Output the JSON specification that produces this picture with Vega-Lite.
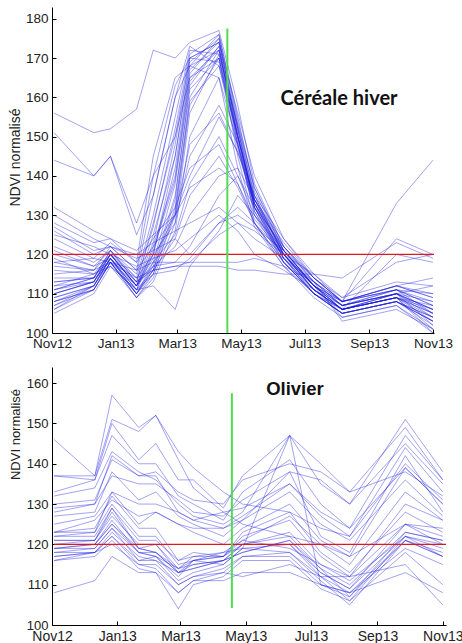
{
"$schema":"https://vega.github.io/schema/vega-lite/v6.json",
"background":"white",
"padding":{"left":8,"top":7,"right":0,"bottom":0},
"spacing":17,
"datasets":{
"dates":[{"i":0,"t":1351900800000},{"i":1,"t":1355184000000},{"i":2,"t":1356566400000},{"i":3,"t":1358726400000},{"i":4,"t":1360108800000},{"i":5,"t":1361923200000},{"i":6,"t":1363132800000},{"i":7,"t":1365552000000},{"i":8,"t":1367107200000},{"i":9,"t":1368489600000},{"i":10,"t":1370908800000},{"i":11,"t":1373414400000},{"i":12,"t":1375747200000},{"i":13,"t":1380240000000},{"i":14,"t":1383264000000}],
"top":[
{"s":1,"i":0,"v":156},{"s":1,"i":1,"v":151},{"s":1,"i":2,"v":152},{"s":1,"i":3,"v":157},{"s":1,"i":4,"v":172},{"s":1,"i":5,"v":170},{"s":1,"i":6,"v":174},{"s":1,"i":7,"v":177},{"s":1,"i":8,"v":158},{"s":1,"i":9,"v":138},{"s":1,"i":10,"v":122},{"s":1,"i":11,"v":114},{"s":1,"i":12,"v":108},{"s":1,"i":13,"v":111},{"s":1,"i":14,"v":107},
{"s":2,"i":0,"v":151},{"s":2,"i":1,"v":140},{"s":2,"i":2,"v":145},{"s":2,"i":3,"v":128},{"s":2,"i":4,"v":140},{"s":2,"i":5,"v":150},{"s":2,"i":6,"v":165},{"s":2,"i":7,"v":170},{"s":2,"i":8,"v":150},{"s":2,"i":9,"v":133},{"s":2,"i":10,"v":120},{"s":2,"i":11,"v":112},{"s":2,"i":12,"v":107},{"s":2,"i":13,"v":110},{"s":2,"i":14,"v":106},
{"s":3,"i":0,"v":144},{"s":3,"i":1,"v":140},{"s":3,"i":2,"v":145},{"s":3,"i":3,"v":125},{"s":3,"i":4,"v":135},{"s":3,"i":5,"v":160},{"s":3,"i":6,"v":168},{"s":3,"i":7,"v":172},{"s":3,"i":8,"v":152},{"s":3,"i":9,"v":132},{"s":3,"i":10,"v":119},{"s":3,"i":11,"v":112},{"s":3,"i":12,"v":108},{"s":3,"i":13,"v":111},{"s":3,"i":14,"v":105},
{"s":4,"i":0,"v":110},{"s":4,"i":1,"v":113},{"s":4,"i":2,"v":120},{"s":4,"i":3,"v":112},{"s":4,"i":4,"v":125},{"s":4,"i":5,"v":145},{"s":4,"i":6,"v":168},{"s":4,"i":7,"v":176},{"s":4,"i":8,"v":155},{"s":4,"i":9,"v":136},{"s":4,"i":10,"v":121},{"s":4,"i":11,"v":112},{"s":4,"i":12,"v":106},{"s":4,"i":13,"v":109},{"s":4,"i":14,"v":104},
{"s":5,"i":0,"v":108},{"s":5,"i":1,"v":112},{"s":5,"i":2,"v":119},{"s":5,"i":3,"v":111},{"s":5,"i":4,"v":122},{"s":5,"i":5,"v":140},{"s":5,"i":6,"v":166},{"s":5,"i":7,"v":175},{"s":5,"i":8,"v":150},{"s":5,"i":9,"v":134},{"s":5,"i":10,"v":120},{"s":5,"i":11,"v":111},{"s":5,"i":12,"v":106},{"s":5,"i":13,"v":110},{"s":5,"i":14,"v":102},
{"s":6,"i":0,"v":107},{"s":6,"i":1,"v":112},{"s":6,"i":2,"v":118},{"s":6,"i":3,"v":110},{"s":6,"i":4,"v":118},{"s":6,"i":5,"v":138},{"s":6,"i":6,"v":164},{"s":6,"i":7,"v":173},{"s":6,"i":8,"v":148},{"s":6,"i":9,"v":131},{"s":6,"i":10,"v":119},{"s":6,"i":11,"v":110},{"s":6,"i":12,"v":105},{"s":6,"i":13,"v":108},{"s":6,"i":14,"v":103},
{"s":7,"i":0,"v":111},{"s":7,"i":1,"v":114},{"s":7,"i":2,"v":121},{"s":7,"i":3,"v":113},{"s":7,"i":4,"v":128},{"s":7,"i":5,"v":150},{"s":7,"i":6,"v":170},{"s":7,"i":7,"v":174},{"s":7,"i":8,"v":156},{"s":7,"i":9,"v":140},{"s":7,"i":10,"v":124},{"s":7,"i":11,"v":114},{"s":7,"i":12,"v":108},{"s":7,"i":13,"v":112},{"s":7,"i":14,"v":109},
{"s":8,"i":0,"v":109},{"s":8,"i":1,"v":112},{"s":8,"i":2,"v":119},{"s":8,"i":3,"v":110},{"s":8,"i":4,"v":116},{"s":8,"i":5,"v":132},{"s":8,"i":6,"v":160},{"s":8,"i":7,"v":172},{"s":8,"i":8,"v":150},{"s":8,"i":9,"v":132},{"s":8,"i":10,"v":118},{"s":8,"i":11,"v":110},{"s":8,"i":12,"v":106},{"s":8,"i":13,"v":109},{"s":8,"i":14,"v":100},
{"s":9,"i":0,"v":106},{"s":9,"i":1,"v":111},{"s":9,"i":2,"v":118},{"s":9,"i":3,"v":109},{"s":9,"i":4,"v":115},{"s":9,"i":5,"v":130},{"s":9,"i":6,"v":158},{"s":9,"i":7,"v":170},{"s":9,"i":8,"v":145},{"s":9,"i":9,"v":128},{"s":9,"i":10,"v":117},{"s":9,"i":11,"v":109},{"s":9,"i":12,"v":104},{"s":9,"i":13,"v":107},{"s":9,"i":14,"v":101},
{"s":10,"i":0,"v":112},{"s":10,"i":1,"v":115},{"s":10,"i":2,"v":120},{"s":10,"i":3,"v":114},{"s":10,"i":4,"v":130},{"s":10,"i":5,"v":155},{"s":10,"i":6,"v":172},{"s":10,"i":7,"v":171},{"s":10,"i":8,"v":153},{"s":10,"i":9,"v":137},{"s":10,"i":10,"v":122},{"s":10,"i":11,"v":113},{"s":10,"i":12,"v":107},{"s":10,"i":13,"v":111},{"s":10,"i":14,"v":108},
{"s":11,"i":0,"v":113},{"s":11,"i":1,"v":114},{"s":11,"i":2,"v":121},{"s":11,"i":3,"v":115},{"s":11,"i":4,"v":135},{"s":11,"i":5,"v":160},{"s":11,"i":6,"v":173},{"s":11,"i":7,"v":168},{"s":11,"i":8,"v":150},{"s":11,"i":9,"v":133},{"s":11,"i":10,"v":121},{"s":11,"i":11,"v":112},{"s":11,"i":12,"v":107},{"s":11,"i":13,"v":110},{"s":11,"i":14,"v":106},
{"s":12,"i":0,"v":105},{"s":12,"i":1,"v":110},{"s":12,"i":2,"v":117},{"s":12,"i":3,"v":109},{"s":12,"i":4,"v":113},{"s":12,"i":5,"v":126},{"s":12,"i":6,"v":150},{"s":12,"i":7,"v":165},{"s":12,"i":8,"v":142},{"s":12,"i":9,"v":127},{"s":12,"i":10,"v":117},{"s":12,"i":11,"v":110},{"s":12,"i":12,"v":105},{"s":12,"i":13,"v":108},{"s":12,"i":14,"v":103},
{"s":13,"i":0,"v":110},{"s":13,"i":1,"v":113},{"s":13,"i":2,"v":119},{"s":13,"i":3,"v":112},{"s":13,"i":4,"v":120},{"s":13,"i":5,"v":142},{"s":13,"i":6,"v":167},{"s":13,"i":7,"v":174},{"s":13,"i":8,"v":152},{"s":13,"i":9,"v":135},{"s":13,"i":10,"v":120},{"s":13,"i":11,"v":111},{"s":13,"i":12,"v":106},{"s":13,"i":13,"v":109},{"s":13,"i":14,"v":105},
{"s":14,"i":0,"v":108},{"s":14,"i":1,"v":111},{"s":14,"i":2,"v":118},{"s":14,"i":3,"v":110},{"s":14,"i":4,"v":117},{"s":14,"i":5,"v":135},{"s":14,"i":6,"v":162},{"s":14,"i":7,"v":170},{"s":14,"i":8,"v":148},{"s":14,"i":9,"v":130},{"s":14,"i":10,"v":118},{"s":14,"i":11,"v":110},{"s":14,"i":12,"v":106},{"s":14,"i":13,"v":110},{"s":14,"i":14,"v":104},
{"s":15,"i":0,"v":115},{"s":15,"i":1,"v":116},{"s":15,"i":2,"v":122},{"s":15,"i":3,"v":116},{"s":15,"i":4,"v":140},{"s":15,"i":5,"v":163},{"s":15,"i":6,"v":170},{"s":15,"i":7,"v":169},{"s":15,"i":8,"v":150},{"s":15,"i":9,"v":134},{"s":15,"i":10,"v":121},{"s":15,"i":11,"v":112},{"s":15,"i":12,"v":108},{"s":15,"i":13,"v":111},{"s":15,"i":14,"v":107},
{"s":16,"i":0,"v":118},{"s":16,"i":1,"v":119},{"s":16,"i":2,"v":123},{"s":16,"i":3,"v":118},{"s":16,"i":4,"v":145},{"s":16,"i":5,"v":165},{"s":16,"i":6,"v":168},{"s":16,"i":7,"v":165},{"s":16,"i":8,"v":148},{"s":16,"i":9,"v":132},{"s":16,"i":10,"v":120},{"s":16,"i":11,"v":112},{"s":16,"i":12,"v":107},{"s":16,"i":13,"v":110},{"s":16,"i":14,"v":106},
{"s":17,"i":0,"v":122},{"s":17,"i":1,"v":118},{"s":17,"i":2,"v":121},{"s":17,"i":3,"v":114},{"s":17,"i":4,"v":120},{"s":17,"i":5,"v":128},{"s":17,"i":6,"v":145},{"s":17,"i":7,"v":158},{"s":17,"i":8,"v":148},{"s":17,"i":9,"v":134},{"s":17,"i":10,"v":122},{"s":17,"i":11,"v":113},{"s":17,"i":12,"v":107},{"s":17,"i":13,"v":111},{"s":17,"i":14,"v":110},
{"s":18,"i":0,"v":126},{"s":18,"i":1,"v":120},{"s":18,"i":2,"v":122},{"s":18,"i":3,"v":116},{"s":18,"i":4,"v":122},{"s":18,"i":5,"v":130},{"s":18,"i":6,"v":140},{"s":18,"i":7,"v":155},{"s":18,"i":8,"v":146},{"s":18,"i":9,"v":133},{"s":18,"i":10,"v":121},{"s":18,"i":11,"v":112},{"s":18,"i":12,"v":106},{"s":18,"i":13,"v":110},{"s":18,"i":14,"v":108},
{"s":19,"i":0,"v":117},{"s":19,"i":1,"v":116},{"s":19,"i":2,"v":120},{"s":19,"i":3,"v":112},{"s":19,"i":4,"v":118},{"s":19,"i":5,"v":125},{"s":19,"i":6,"v":138},{"s":19,"i":7,"v":150},{"s":19,"i":8,"v":140},{"s":19,"i":9,"v":130},{"s":19,"i":10,"v":120},{"s":19,"i":11,"v":112},{"s":19,"i":12,"v":106},{"s":19,"i":13,"v":109},{"s":19,"i":14,"v":105},
{"s":20,"i":0,"v":128},{"s":20,"i":1,"v":123},{"s":20,"i":2,"v":124},{"s":20,"i":3,"v":118},{"s":20,"i":4,"v":124},{"s":20,"i":5,"v":132},{"s":20,"i":6,"v":142},{"s":20,"i":7,"v":148},{"s":20,"i":8,"v":138},{"s":20,"i":9,"v":128},{"s":20,"i":10,"v":118},{"s":20,"i":11,"v":111},{"s":20,"i":12,"v":105},{"s":20,"i":13,"v":108},{"s":20,"i":14,"v":104},
{"s":21,"i":0,"v":111},{"s":21,"i":1,"v":113},{"s":21,"i":2,"v":119},{"s":21,"i":3,"v":111},{"s":21,"i":4,"v":116},{"s":21,"i":5,"v":124},{"s":21,"i":6,"v":135},{"s":21,"i":7,"v":145},{"s":21,"i":8,"v":137},{"s":21,"i":9,"v":128},{"s":21,"i":10,"v":118},{"s":21,"i":11,"v":110},{"s":21,"i":12,"v":105},{"s":21,"i":13,"v":108},{"s":21,"i":14,"v":103},
{"s":22,"i":0,"v":113},{"s":22,"i":1,"v":114},{"s":22,"i":2,"v":120},{"s":22,"i":3,"v":112},{"s":22,"i":4,"v":119},{"s":22,"i":5,"v":130},{"s":22,"i":6,"v":148},{"s":22,"i":7,"v":156},{"s":22,"i":8,"v":146},{"s":22,"i":9,"v":135},{"s":22,"i":10,"v":124},{"s":22,"i":11,"v":115},{"s":22,"i":12,"v":108},{"s":22,"i":13,"v":112},{"s":22,"i":14,"v":110},
{"s":23,"i":0,"v":120},{"s":23,"i":1,"v":117},{"s":23,"i":2,"v":121},{"s":23,"i":3,"v":113},{"s":23,"i":4,"v":117},{"s":23,"i":5,"v":122},{"s":23,"i":6,"v":130},{"s":23,"i":7,"v":140},{"s":23,"i":8,"v":142},{"s":23,"i":9,"v":134},{"s":23,"i":10,"v":123},{"s":23,"i":11,"v":114},{"s":23,"i":12,"v":108},{"s":23,"i":13,"v":112},{"s":23,"i":14,"v":114},
{"s":24,"i":0,"v":124},{"s":24,"i":1,"v":119},{"s":24,"i":2,"v":118},{"s":24,"i":3,"v":116},{"s":24,"i":4,"v":118},{"s":24,"i":5,"v":118},{"s":24,"i":6,"v":122},{"s":24,"i":7,"v":135},{"s":24,"i":8,"v":140},{"s":24,"i":9,"v":132},{"s":24,"i":10,"v":122},{"s":24,"i":11,"v":114},{"s":24,"i":12,"v":109},{"s":24,"i":13,"v":113},{"s":24,"i":14,"v":112},
{"s":25,"i":0,"v":130},{"s":25,"i":1,"v":124},{"s":25,"i":2,"v":122},{"s":25,"i":3,"v":120},{"s":25,"i":4,"v":123},{"s":25,"i":5,"v":126},{"s":25,"i":6,"v":128},{"s":25,"i":7,"v":132},{"s":25,"i":8,"v":128},{"s":25,"i":9,"v":124},{"s":25,"i":10,"v":119},{"s":25,"i":11,"v":113},{"s":25,"i":12,"v":108},{"s":25,"i":13,"v":112},{"s":25,"i":14,"v":109},
{"s":26,"i":0,"v":121},{"s":26,"i":1,"v":117},{"s":26,"i":2,"v":119},{"s":26,"i":3,"v":113},{"s":26,"i":4,"v":116},{"s":26,"i":5,"v":117},{"s":26,"i":6,"v":118},{"s":26,"i":7,"v":125},{"s":26,"i":8,"v":128},{"s":26,"i":9,"v":126},{"s":26,"i":10,"v":120},{"s":26,"i":11,"v":115},{"s":26,"i":12,"v":109},{"s":26,"i":13,"v":118},{"s":26,"i":14,"v":120},
{"s":27,"i":0,"v":116},{"s":27,"i":1,"v":115},{"s":27,"i":2,"v":118},{"s":27,"i":3,"v":112},{"s":27,"i":4,"v":117},{"s":27,"i":5,"v":118},{"s":27,"i":6,"v":118},{"s":27,"i":7,"v":118},{"s":27,"i":8,"v":118},{"s":27,"i":9,"v":119},{"s":27,"i":10,"v":117},{"s":27,"i":11,"v":113},{"s":27,"i":12,"v":108},{"s":27,"i":13,"v":124},{"s":27,"i":14,"v":120},
{"s":28,"i":0,"v":118},{"s":28,"i":1,"v":116},{"s":28,"i":2,"v":118},{"s":28,"i":3,"v":114},{"s":28,"i":4,"v":116},{"s":28,"i":5,"v":117},{"s":28,"i":6,"v":117},{"s":28,"i":7,"v":117},{"s":28,"i":8,"v":116},{"s":28,"i":9,"v":116},{"s":28,"i":10,"v":115},{"s":28,"i":11,"v":115},{"s":28,"i":12,"v":114},{"s":28,"i":13,"v":123},{"s":28,"i":14,"v":119},
{"s":29,"i":0,"v":114},{"s":29,"i":1,"v":114},{"s":29,"i":2,"v":117},{"s":29,"i":3,"v":111},{"s":29,"i":4,"v":115},{"s":29,"i":5,"v":116},{"s":29,"i":6,"v":119},{"s":29,"i":7,"v":128},{"s":29,"i":8,"v":130},{"s":29,"i":9,"v":127},{"s":29,"i":10,"v":121},{"s":29,"i":11,"v":114},{"s":29,"i":12,"v":108},{"s":29,"i":13,"v":133},{"s":29,"i":14,"v":144},
{"s":30,"i":0,"v":125},{"s":30,"i":1,"v":122},{"s":30,"i":2,"v":120},{"s":30,"i":3,"v":117},{"s":30,"i":4,"v":119},{"s":30,"i":5,"v":121},{"s":30,"i":6,"v":124},{"s":30,"i":7,"v":130},{"s":30,"i":8,"v":126},{"s":30,"i":9,"v":120},{"s":30,"i":10,"v":116},{"s":30,"i":11,"v":111},{"s":30,"i":12,"v":106},{"s":30,"i":13,"v":120},{"s":30,"i":14,"v":118},
{"s":31,"i":0,"v":132},{"s":31,"i":1,"v":126},{"s":31,"i":2,"v":124},{"s":31,"i":3,"v":121},{"s":31,"i":4,"v":125},{"s":31,"i":5,"v":130},{"s":31,"i":6,"v":137},{"s":31,"i":7,"v":142},{"s":31,"i":8,"v":138},{"s":31,"i":9,"v":129},{"s":31,"i":10,"v":120},{"s":31,"i":11,"v":113},{"s":31,"i":12,"v":107},{"s":31,"i":13,"v":110},{"s":31,"i":14,"v":112},
{"s":32,"i":0,"v":107},{"s":32,"i":1,"v":111},{"s":32,"i":2,"v":118},{"s":32,"i":3,"v":109},{"s":32,"i":4,"v":114},{"s":32,"i":5,"v":128},{"s":32,"i":6,"v":156},{"s":32,"i":7,"v":171},{"s":32,"i":8,"v":149},{"s":32,"i":9,"v":132},{"s":32,"i":10,"v":119},{"s":32,"i":11,"v":111},{"s":32,"i":12,"v":106},{"s":32,"i":13,"v":109},{"s":32,"i":14,"v":101},
{"s":33,"i":0,"v":109},{"s":33,"i":1,"v":112},{"s":33,"i":2,"v":119},{"s":33,"i":3,"v":111},{"s":33,"i":4,"v":120},{"s":33,"i":5,"v":145},{"s":33,"i":6,"v":169},{"s":33,"i":7,"v":175},{"s":33,"i":8,"v":153},{"s":33,"i":9,"v":135},{"s":33,"i":10,"v":120},{"s":33,"i":11,"v":111},{"s":33,"i":12,"v":106},{"s":33,"i":13,"v":109},{"s":33,"i":14,"v":106},
{"s":34,"i":0,"v":106},{"s":34,"i":1,"v":112},{"s":34,"i":2,"v":119},{"s":34,"i":3,"v":110},{"s":34,"i":4,"v":116},{"s":34,"i":5,"v":134},{"s":34,"i":6,"v":163},{"s":34,"i":7,"v":173},{"s":34,"i":8,"v":151},{"s":34,"i":9,"v":133},{"s":34,"i":10,"v":119},{"s":34,"i":11,"v":110},{"s":34,"i":12,"v":105},{"s":34,"i":13,"v":108},{"s":34,"i":14,"v":102},
{"s":35,"i":0,"v":110},{"s":35,"i":1,"v":113},{"s":35,"i":2,"v":120},{"s":35,"i":3,"v":112},{"s":35,"i":4,"v":123},{"s":35,"i":5,"v":148},{"s":35,"i":6,"v":170},{"s":35,"i":7,"v":174},{"s":35,"i":8,"v":152},{"s":35,"i":9,"v":134},{"s":35,"i":10,"v":120},{"s":35,"i":11,"v":111},{"s":35,"i":12,"v":107},{"s":35,"i":13,"v":110},{"s":35,"i":14,"v":105},
{"s":36,"i":0,"v":112},{"s":36,"i":1,"v":113},{"s":36,"i":2,"v":120},{"s":36,"i":3,"v":113},{"s":36,"i":4,"v":127},{"s":36,"i":5,"v":152},{"s":36,"i":6,"v":171},{"s":36,"i":7,"v":176},{"s":36,"i":8,"v":154},{"s":36,"i":9,"v":137},{"s":36,"i":10,"v":121},{"s":36,"i":11,"v":112},{"s":36,"i":12,"v":106},{"s":36,"i":13,"v":109},{"s":36,"i":14,"v":103},
{"s":37,"i":0,"v":108},{"s":37,"i":1,"v":111},{"s":37,"i":2,"v":118},{"s":37,"i":3,"v":110},{"s":37,"i":4,"v":115},{"s":37,"i":5,"v":131},{"s":37,"i":6,"v":159},{"s":37,"i":7,"v":168},{"s":37,"i":8,"v":147},{"s":37,"i":9,"v":131},{"s":37,"i":10,"v":118},{"s":37,"i":11,"v":110},{"s":37,"i":12,"v":105},{"s":37,"i":13,"v":108},{"s":37,"i":14,"v":104},
{"s":38,"i":0,"v":111},{"s":38,"i":1,"v":114},{"s":38,"i":2,"v":120},{"s":38,"i":3,"v":112},{"s":38,"i":4,"v":121},{"s":38,"i":5,"v":139},{"s":38,"i":6,"v":165},{"s":38,"i":7,"v":172},{"s":38,"i":8,"v":150},{"s":38,"i":9,"v":133},{"s":38,"i":10,"v":119},{"s":38,"i":11,"v":111},{"s":38,"i":12,"v":106},{"s":38,"i":13,"v":109},{"s":38,"i":14,"v":107},
{"s":39,"i":0,"v":119},{"s":39,"i":1,"v":115},{"s":39,"i":2,"v":117},{"s":39,"i":3,"v":111},{"s":39,"i":4,"v":112},{"s":39,"i":5,"v":106},{"s":39,"i":6,"v":117},{"s":39,"i":7,"v":126},{"s":39,"i":8,"v":135},{"s":39,"i":9,"v":130},{"s":39,"i":10,"v":121},{"s":39,"i":11,"v":113},{"s":39,"i":12,"v":103},{"s":39,"i":13,"v":106},{"s":39,"i":14,"v":101},
{"s":40,"i":0,"v":127},{"s":40,"i":1,"v":121},{"s":40,"i":2,"v":122},{"s":40,"i":3,"v":119},{"s":40,"i":4,"v":121},{"s":40,"i":5,"v":124},{"s":40,"i":6,"v":120},{"s":40,"i":7,"v":128},{"s":40,"i":8,"v":132},{"s":40,"i":9,"v":128},{"s":40,"i":10,"v":120},{"s":40,"i":11,"v":112},{"s":40,"i":12,"v":104},{"s":40,"i":13,"v":107},{"s":40,"i":14,"v":100}
],
"bot":[
{"s":1,"i":0,"v":137},{"s":1,"i":1,"v":137},{"s":1,"i":2,"v":157},{"s":1,"i":3,"v":149},{"s":1,"i":4,"v":152},{"s":1,"i":5,"v":143},{"s":1,"i":6,"v":139},{"s":1,"i":7,"v":133},{"s":1,"i":8,"v":130},{"s":1,"i":10,"v":128},{"s":1,"i":11,"v":124},{"s":1,"i":12,"v":122},{"s":1,"i":13,"v":140},{"s":1,"i":14,"v":131},
{"s":2,"i":0,"v":146},{"s":2,"i":1,"v":137},{"s":2,"i":2,"v":151},{"s":2,"i":3,"v":148},{"s":2,"i":4,"v":152},{"s":2,"i":5,"v":141},{"s":2,"i":6,"v":134},{"s":2,"i":7,"v":128},{"s":2,"i":8,"v":125},{"s":2,"i":10,"v":122},{"s":2,"i":11,"v":120},{"s":2,"i":12,"v":117},{"s":2,"i":13,"v":125},{"s":2,"i":14,"v":120},
{"s":3,"i":0,"v":137},{"s":3,"i":1,"v":136},{"s":3,"i":2,"v":150},{"s":3,"i":3,"v":141},{"s":3,"i":4,"v":145},{"s":3,"i":5,"v":136},{"s":3,"i":6,"v":136},{"s":3,"i":7,"v":129},{"s":3,"i":8,"v":137},{"s":3,"i":10,"v":147},{"s":3,"i":11,"v":135},{"s":3,"i":12,"v":130},{"s":3,"i":13,"v":151},{"s":3,"i":14,"v":138},
{"s":4,"i":0,"v":133},{"s":4,"i":1,"v":136},{"s":4,"i":2,"v":147},{"s":4,"i":3,"v":140},{"s":4,"i":4,"v":140},{"s":4,"i":5,"v":132},{"s":4,"i":6,"v":130},{"s":4,"i":7,"v":126},{"s":4,"i":8,"v":133},{"s":4,"i":10,"v":141},{"s":4,"i":11,"v":130},{"s":4,"i":12,"v":124},{"s":4,"i":13,"v":147},{"s":4,"i":14,"v":136},
{"s":5,"i":0,"v":129},{"s":5,"i":1,"v":130},{"s":5,"i":2,"v":142},{"s":5,"i":3,"v":137},{"s":5,"i":4,"v":137},{"s":5,"i":5,"v":128},{"s":5,"i":6,"v":126},{"s":5,"i":7,"v":128},{"s":5,"i":8,"v":129},{"s":5,"i":10,"v":135},{"s":5,"i":11,"v":127},{"s":5,"i":12,"v":122},{"s":5,"i":13,"v":144},{"s":5,"i":14,"v":133},
{"s":6,"i":0,"v":127},{"s":6,"i":1,"v":128},{"s":6,"i":2,"v":138},{"s":6,"i":3,"v":131},{"s":6,"i":4,"v":133},{"s":6,"i":5,"v":127},{"s":6,"i":6,"v":125},{"s":6,"i":7,"v":122},{"s":6,"i":8,"v":126},{"s":6,"i":10,"v":138},{"s":6,"i":11,"v":122},{"s":6,"i":12,"v":118},{"s":6,"i":13,"v":142},{"s":6,"i":14,"v":128},
{"s":7,"i":0,"v":123},{"s":7,"i":1,"v":123},{"s":7,"i":2,"v":133},{"s":7,"i":3,"v":125},{"s":7,"i":4,"v":128},{"s":7,"i":5,"v":125},{"s":7,"i":6,"v":123},{"s":7,"i":7,"v":120},{"s":7,"i":8,"v":124},{"s":7,"i":10,"v":130},{"s":7,"i":11,"v":121},{"s":7,"i":12,"v":117},{"s":7,"i":13,"v":139},{"s":7,"i":14,"v":130},
{"s":8,"i":0,"v":122},{"s":8,"i":1,"v":122},{"s":8,"i":2,"v":129},{"s":8,"i":3,"v":121},{"s":8,"i":4,"v":121},{"s":8,"i":5,"v":116},{"s":8,"i":6,"v":118},{"s":8,"i":7,"v":117},{"s":8,"i":8,"v":121},{"s":8,"i":10,"v":127},{"s":8,"i":11,"v":120},{"s":8,"i":12,"v":115},{"s":8,"i":13,"v":133},{"s":8,"i":14,"v":126},
{"s":9,"i":0,"v":121},{"s":9,"i":1,"v":121},{"s":9,"i":2,"v":128},{"s":9,"i":3,"v":119},{"s":9,"i":4,"v":120},{"s":9,"i":5,"v":114},{"s":9,"i":6,"v":115},{"s":9,"i":7,"v":116},{"s":9,"i":8,"v":120},{"s":9,"i":10,"v":123},{"s":9,"i":11,"v":115},{"s":9,"i":12,"v":112},{"s":9,"i":13,"v":125},{"s":9,"i":14,"v":122},
{"s":10,"i":0,"v":120},{"s":10,"i":1,"v":120},{"s":10,"i":2,"v":125},{"s":10,"i":3,"v":119},{"s":10,"i":4,"v":118},{"s":10,"i":5,"v":113},{"s":10,"i":6,"v":114},{"s":10,"i":7,"v":116},{"s":10,"i":8,"v":118},{"s":10,"i":10,"v":121},{"s":10,"i":11,"v":114},{"s":10,"i":12,"v":110},{"s":10,"i":13,"v":123},{"s":10,"i":14,"v":121},
{"s":11,"i":0,"v":119},{"s":11,"i":1,"v":119},{"s":11,"i":2,"v":124},{"s":11,"i":3,"v":118},{"s":11,"i":4,"v":117},{"s":11,"i":5,"v":112},{"s":11,"i":6,"v":116},{"s":11,"i":7,"v":117},{"s":11,"i":8,"v":120},{"s":11,"i":10,"v":120},{"s":11,"i":11,"v":113},{"s":11,"i":12,"v":109},{"s":11,"i":13,"v":122},{"s":11,"i":14,"v":119},
{"s":12,"i":0,"v":118},{"s":12,"i":1,"v":118},{"s":12,"i":2,"v":123},{"s":12,"i":3,"v":117},{"s":12,"i":4,"v":116},{"s":12,"i":5,"v":113},{"s":12,"i":6,"v":116},{"s":12,"i":7,"v":118},{"s":12,"i":8,"v":119},{"s":12,"i":10,"v":118},{"s":12,"i":11,"v":112},{"s":12,"i":12,"v":108},{"s":12,"i":13,"v":121},{"s":12,"i":14,"v":118},
{"s":13,"i":0,"v":117},{"s":13,"i":1,"v":118},{"s":13,"i":2,"v":122},{"s":13,"i":3,"v":116},{"s":13,"i":4,"v":117},{"s":13,"i":5,"v":114},{"s":13,"i":6,"v":117},{"s":13,"i":7,"v":118},{"s":13,"i":8,"v":121},{"s":13,"i":10,"v":119},{"s":13,"i":11,"v":115},{"s":13,"i":12,"v":111},{"s":13,"i":13,"v":122},{"s":13,"i":14,"v":117},
{"s":14,"i":0,"v":108},{"s":14,"i":1,"v":111},{"s":14,"i":2,"v":117},{"s":14,"i":3,"v":113},{"s":14,"i":4,"v":113},{"s":14,"i":5,"v":108},{"s":14,"i":6,"v":111},{"s":14,"i":7,"v":111},{"s":14,"i":8,"v":113},{"s":14,"i":10,"v":113},{"s":14,"i":11,"v":110},{"s":14,"i":12,"v":108},{"s":14,"i":13,"v":113},{"s":14,"i":14,"v":108},
{"s":15,"i":0,"v":132},{"s":15,"i":1,"v":134},{"s":15,"i":2,"v":143},{"s":15,"i":3,"v":138},{"s":15,"i":4,"v":136},{"s":15,"i":5,"v":130},{"s":15,"i":6,"v":127},{"s":15,"i":7,"v":125},{"s":15,"i":8,"v":128},{"s":15,"i":10,"v":147},{"s":15,"i":11,"v":140},{"s":15,"i":12,"v":133},{"s":15,"i":13,"v":138},{"s":15,"i":14,"v":132},
{"s":16,"i":0,"v":130},{"s":16,"i":1,"v":131},{"s":16,"i":2,"v":141},{"s":16,"i":3,"v":137},{"s":16,"i":4,"v":138},{"s":16,"i":5,"v":133},{"s":16,"i":6,"v":131},{"s":16,"i":7,"v":130},{"s":16,"i":8,"v":136},{"s":16,"i":10,"v":140},{"s":16,"i":11,"v":138},{"s":16,"i":12,"v":133},{"s":16,"i":13,"v":149},{"s":16,"i":14,"v":136},
{"s":17,"i":0,"v":128},{"s":17,"i":1,"v":130},{"s":17,"i":2,"v":137},{"s":17,"i":3,"v":135},{"s":17,"i":4,"v":135},{"s":17,"i":5,"v":131},{"s":17,"i":6,"v":128},{"s":17,"i":7,"v":127},{"s":17,"i":8,"v":131},{"s":17,"i":10,"v":138},{"s":17,"i":11,"v":136},{"s":17,"i":12,"v":130},{"s":17,"i":13,"v":145},{"s":17,"i":14,"v":135},
{"s":18,"i":0,"v":125},{"s":18,"i":1,"v":127},{"s":18,"i":2,"v":133},{"s":18,"i":3,"v":130},{"s":18,"i":4,"v":130},{"s":18,"i":5,"v":128},{"s":18,"i":6,"v":126},{"s":18,"i":7,"v":124},{"s":18,"i":8,"v":127},{"s":18,"i":10,"v":135},{"s":18,"i":11,"v":128},{"s":18,"i":12,"v":124},{"s":18,"i":13,"v":139},{"s":18,"i":14,"v":130},
{"s":19,"i":0,"v":123},{"s":19,"i":1,"v":126},{"s":19,"i":2,"v":131},{"s":19,"i":3,"v":127},{"s":19,"i":4,"v":128},{"s":19,"i":5,"v":125},{"s":19,"i":6,"v":124},{"s":19,"i":7,"v":124},{"s":19,"i":8,"v":126},{"s":19,"i":10,"v":133},{"s":19,"i":11,"v":125},{"s":19,"i":12,"v":121},{"s":19,"i":13,"v":136},{"s":19,"i":14,"v":127},
{"s":20,"i":0,"v":120},{"s":20,"i":1,"v":121},{"s":20,"i":2,"v":127},{"s":20,"i":3,"v":120},{"s":20,"i":4,"v":120},{"s":20,"i":5,"v":113},{"s":20,"i":6,"v":115},{"s":20,"i":7,"v":116},{"s":20,"i":8,"v":120},{"s":20,"i":10,"v":122},{"s":20,"i":11,"v":114},{"s":20,"i":12,"v":107},{"s":20,"i":13,"v":123},{"s":20,"i":14,"v":121},
{"s":21,"i":0,"v":119},{"s":21,"i":1,"v":120},{"s":21,"i":2,"v":126},{"s":21,"i":3,"v":118},{"s":21,"i":4,"v":117},{"s":21,"i":5,"v":111},{"s":21,"i":6,"v":113},{"s":21,"i":7,"v":115},{"s":21,"i":8,"v":119},{"s":21,"i":10,"v":120},{"s":21,"i":11,"v":112},{"s":21,"i":12,"v":106},{"s":21,"i":13,"v":122},{"s":21,"i":14,"v":120},
{"s":22,"i":0,"v":121},{"s":22,"i":1,"v":121},{"s":22,"i":2,"v":129},{"s":22,"i":3,"v":119},{"s":22,"i":4,"v":118},{"s":22,"i":5,"v":113},{"s":22,"i":6,"v":114},{"s":22,"i":7,"v":116},{"s":22,"i":8,"v":118},{"s":22,"i":10,"v":121},{"s":22,"i":11,"v":113},{"s":22,"i":12,"v":109},{"s":22,"i":13,"v":125},{"s":22,"i":14,"v":124},
{"s":23,"i":0,"v":118},{"s":23,"i":1,"v":119},{"s":23,"i":2,"v":124},{"s":23,"i":3,"v":116},{"s":23,"i":4,"v":116},{"s":23,"i":5,"v":110},{"s":23,"i":6,"v":112},{"s":23,"i":7,"v":114},{"s":23,"i":8,"v":117},{"s":23,"i":10,"v":118},{"s":23,"i":11,"v":111},{"s":23,"i":12,"v":105},{"s":23,"i":13,"v":121},{"s":23,"i":14,"v":117},
{"s":24,"i":0,"v":117},{"s":24,"i":1,"v":118},{"s":24,"i":2,"v":122},{"s":24,"i":3,"v":115},{"s":24,"i":4,"v":114},{"s":24,"i":5,"v":108},{"s":24,"i":6,"v":111},{"s":24,"i":7,"v":113},{"s":24,"i":8,"v":117},{"s":24,"i":10,"v":117},{"s":24,"i":11,"v":110},{"s":24,"i":12,"v":108},{"s":24,"i":13,"v":119},{"s":24,"i":14,"v":115},
{"s":25,"i":0,"v":116},{"s":25,"i":1,"v":117},{"s":25,"i":2,"v":121},{"s":25,"i":3,"v":114},{"s":25,"i":4,"v":113},{"s":25,"i":5,"v":104},{"s":25,"i":6,"v":110},{"s":25,"i":7,"v":112},{"s":25,"i":8,"v":116},{"s":25,"i":10,"v":116},{"s":25,"i":11,"v":109},{"s":25,"i":12,"v":106},{"s":25,"i":13,"v":118},{"s":25,"i":14,"v":110},
{"s":26,"i":0,"v":123},{"s":26,"i":1,"v":124},{"s":26,"i":2,"v":132},{"s":26,"i":3,"v":124},{"s":26,"i":4,"v":124},{"s":26,"i":5,"v":116},{"s":26,"i":6,"v":117},{"s":26,"i":7,"v":117},{"s":26,"i":8,"v":122},{"s":26,"i":10,"v":126},{"s":26,"i":11,"v":117},{"s":26,"i":12,"v":112},{"s":26,"i":13,"v":130},{"s":26,"i":14,"v":126},
{"s":27,"i":0,"v":122},{"s":27,"i":1,"v":123},{"s":27,"i":2,"v":130},{"s":27,"i":3,"v":122},{"s":27,"i":4,"v":122},{"s":27,"i":5,"v":115},{"s":27,"i":6,"v":116},{"s":27,"i":7,"v":117},{"s":27,"i":8,"v":123},{"s":27,"i":10,"v":128},{"s":27,"i":11,"v":118},{"s":27,"i":12,"v":113},{"s":27,"i":13,"v":128},{"s":27,"i":14,"v":123},
{"s":28,"i":0,"v":116},{"s":28,"i":1,"v":118},{"s":28,"i":2,"v":120},{"s":28,"i":3,"v":115},{"s":28,"i":4,"v":115},{"s":28,"i":5,"v":110},{"s":28,"i":6,"v":112},{"s":28,"i":7,"v":113},{"s":28,"i":8,"v":112},{"s":28,"i":10,"v":115},{"s":28,"i":11,"v":112},{"s":28,"i":12,"v":112},{"s":28,"i":13,"v":115},{"s":28,"i":14,"v":105},
{"s":29,"i":0,"v":119},{"s":29,"i":1,"v":120},{"s":29,"i":2,"v":125},{"s":29,"i":3,"v":118},{"s":29,"i":4,"v":118},{"s":29,"i":5,"v":114},{"s":29,"i":6,"v":116},{"s":29,"i":7,"v":115},{"s":29,"i":8,"v":119},{"s":29,"i":10,"v":147},{"s":29,"i":11,"v":110},{"s":29,"i":12,"v":107},{"s":29,"i":13,"v":121},{"s":29,"i":14,"v":117}
]
},
"vconcat":[
{
"width":382,"height":326,
"layer":[
{"data":{"name":"top"},
"transform":[{"lookup":"i","from":{"data":{"name":"dates"},"key":"i","fields":["t"]}}],
"mark":{"type":"line","stroke":"#1a1adc","strokeWidth":1,"opacity":0.4},
"encoding":{
"x":{"field":"t","type":"temporal","scale":{"type":"utc","domain":[{"year":2012,"month":11,"date":1,"utc":true},{"year":2013,"month":11,"date":2,"utc":true}]},
"axis":{"title":null,"values":[{"year":2012,"month":11,"date":1,"utc":true},{"year":2013,"month":1,"date":1,"utc":true},{"year":2013,"month":3,"date":1,"utc":true},{"year":2013,"month":5,"date":1,"utc":true},{"year":2013,"month":7,"date":1,"utc":true},{"year":2013,"month":9,"date":1,"utc":true},{"year":2013,"month":11,"date":1,"utc":true}],"format":"%b%y","labelFlush":false,"labelOverlap":false,"labelFontSize":13.5,"tickSize":-4,"labelPadding":7}},
"y":{"field":"v","type":"quantitative","scale":{"domain":[100,183],"nice":false,"zero":false},
"axis":{"title":"NDVI normalisé","values":[100,110,120,130,140,150,160,170,180],"labelFontSize":13.5,"titleFontSize":14,"tickSize":-4,"labelPadding":8,"titlePadding":3,"titleY":150}},
"detail":{"field":"s","type":"nominal"}}},
{"data":{"values":[{"a":"2012-11-01","b":"2013-11-02","v":120}]},
"mark":{"type":"rule","color":"#e3161c","strokeWidth":1.2},
"encoding":{"x":{"field":"a","type":"temporal"},"x2":{"field":"b"},"y":{"field":"v","type":"quantitative"}}},
{"data":{"values":[{"t":"2013-04-18","a":177.5,"b":100}]},
"mark":{"type":"rule","color":"#4fdc4f","strokeWidth":2},
"encoding":{"x":{"field":"t","type":"temporal"},"y":{"field":"a","type":"quantitative"},"y2":{"field":"b"}}},
{"data":{"values":[{"t":"2013-06-08","v":158.1,"label":"Céréale hiver"}]},
"mark":{"type":"text","font":"Lato","fontWeight":"bold","fontSize":20,"align":"left","baseline":"alphabetic","color":"#111"},
"encoding":{"x":{"field":"t","type":"temporal"},"y":{"field":"v","type":"quantitative"},"text":{"field":"label"}}}
]
},
{
"width":394,"height":258,
"layer":[
{"data":{"name":"bot"},
"transform":[{"lookup":"i","from":{"data":{"name":"dates"},"key":"i","fields":["t"]}}],
"mark":{"type":"line","stroke":"#1a1adc","strokeWidth":1,"opacity":0.4},
"encoding":{
"x":{"field":"t","type":"temporal","scale":{"type":"utc","domain":[{"year":2012,"month":11,"date":1,"utc":true},{"year":2013,"month":11,"date":4,"utc":true}]},
"axis":{"title":null,"values":[{"year":2012,"month":11,"date":1,"utc":true},{"year":2013,"month":1,"date":1,"utc":true},{"year":2013,"month":3,"date":1,"utc":true},{"year":2013,"month":5,"date":1,"utc":true},{"year":2013,"month":7,"date":1,"utc":true},{"year":2013,"month":9,"date":1,"utc":true},{"year":2013,"month":11,"date":1,"utc":true}],"format":"%b%y","labelFlush":false,"labelOverlap":false,"labelFontSize":14,"tickSize":-4,"labelPadding":8}},
"y":{"field":"v","type":"quantitative","scale":{"domain":[100,164],"nice":false,"zero":false},
"axis":{"title":"NDVI normalisé","values":[100,110,120,130,140,150,160],"labelFontSize":13,"titleFontSize":13,"tickSize":-4,"labelPadding":8,"titlePadding":4,"titleY":67}},
"detail":{"field":"s","type":"nominal"}}},
{"data":{"values":[{"a":"2012-11-03","b":"2013-11-04","v":120}]},
"mark":{"type":"rule","color":"#e3161c","strokeWidth":1.2},
"encoding":{"x":{"field":"a","type":"temporal"},"x2":{"field":"b"},"y":{"field":"v","type":"quantitative"}}},
{"data":{"values":[{"t":"2013-04-18","a":157.5,"b":104.2}]},
"mark":{"type":"rule","color":"#4fdc4f","strokeWidth":2},
"encoding":{"x":{"field":"t","type":"temporal"},"y":{"field":"a","type":"quantitative"},"y2":{"field":"b"}}},
{"data":{"values":[{"t":"2013-05-20","v":157,"label":"Olivier"}]},
"mark":{"type":"text","font":"Liberation Sans","fontWeight":"bold","fontSize":18.5,"align":"left","baseline":"alphabetic","color":"#111"},
"encoding":{"x":{"field":"t","type":"temporal"},"y":{"field":"v","type":"quantitative"},"text":{"field":"label"}}}
]
}
],
"config":{"view":{"stroke":null},"axis":{"grid":false,"domainColor":"#000","domainWidth":1,"tickColor":"#000","labelColor":"#222","titleColor":"#222","labelFont":"Liberation Sans","titleFont":"Liberation Sans","titleFontWeight":"normal"}}
}
